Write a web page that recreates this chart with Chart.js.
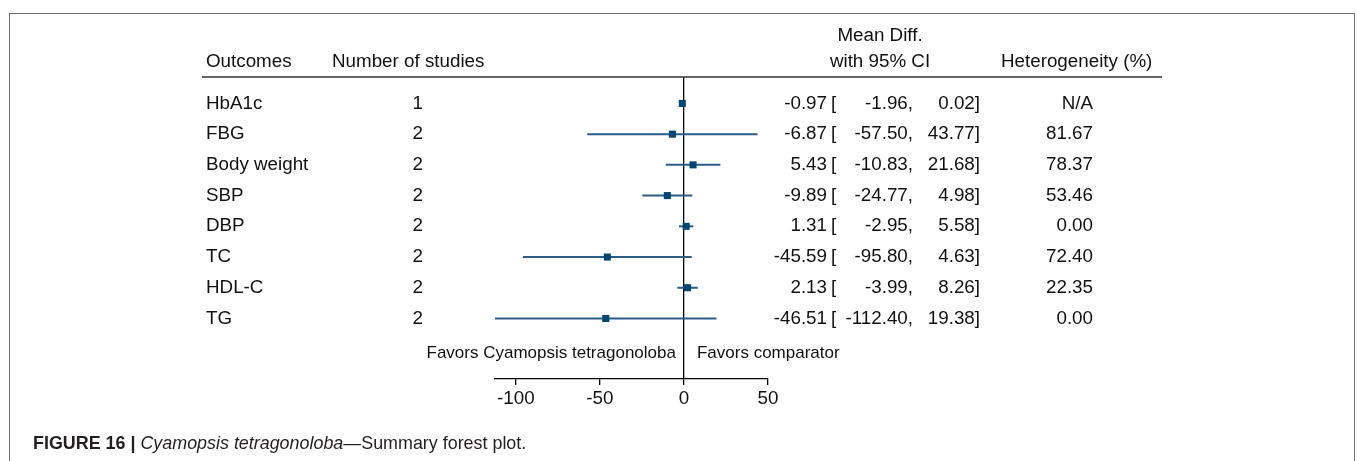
<!DOCTYPE html>
<html>
<head>
<meta charset="utf-8">
<script src="https://cdn.jsdelivr.net/npm/chart.js"></script>
<style>
  body { margin: 0; background: #fff; }
  #wrap { position: relative; width: 1357px; height: 461px; overflow: hidden; }
  #frame { position: absolute; left: 9px; top: 13px; width: 1344px; height: 460px;
           border: 1px solid #6d6d6d; border-bottom: none; }
  #forest { position: absolute; left: 0; top: 0; }
  #caption { position: absolute; left: 33px; top: 433px; font: 17.9px 'Liberation Sans', Arial, sans-serif;
             color: #231f20; white-space: nowrap; }
  #caption b { font-weight: bold; }
</style>
</head>
<body>
<div id="wrap">
  <div id="frame"></div>
  <canvas id="forest" width="1357" height="461"></canvas>
  <div id="caption"><b>FIGURE 16 |</b> <i>Cyamopsis tetragonoloba</i>—Summary forest plot.</div>
</div>
<script>
var outcomes = ['HbA1c', 'FBG', 'Body weight', 'SBP', 'DBP', 'TC', 'HDL-C', 'TG'];
var studies = [1, 2, 2, 2, 2, 2, 2, 2];
var meanDiff = [-0.97, -6.87, 5.43, -9.89, 1.31, -45.59, 2.13, -46.51];
var ciLow = [-1.96, -57.50, -10.83, -24.77, -2.95, -95.80, -3.99, -112.40];
var ciHigh = [0.02, 43.77, 21.68, 4.98, 5.58, 4.63, 8.26, 19.38];
var heterogeneity = ['N/A', '81.67', '78.37', '53.46', '0.00', '72.40', '22.35', '0.00'];
var xTicks = [-100, -50, 0, 50];

var FONT = "'Liberation Sans', Arial, sans-serif";
var TXT = '18.8px ' + FONT;

// forest plot table text + header rule
var tablePlugin = {
    id: 'forestTable',
    afterDraw: function (chart) {
        var ctx = chart.ctx;
        var y = chart.scales.y;
        var top = chart.chartArea.top;
        ctx.save();
        ctx.fillStyle = '#111';
        ctx.font = TXT;
        ctx.textBaseline = 'middle';

        // headers
        ctx.textAlign = 'left';
        ctx.fillText('Outcomes', 206, 62);
        ctx.fillText('Number of studies', 332, 62);
        ctx.fillText('Heterogeneity (%)', 1001, 62);
        ctx.textAlign = 'center';
        ctx.fillText('Mean Diff.', 880, 36);
        ctx.fillText('with 95% CI', 880, 62);

        ctx.strokeStyle = '#333';
        ctx.lineWidth = 1.3;
        ctx.beginPath();
        ctx.moveTo(202, top);
        ctx.lineTo(1162, top);
        ctx.stroke();

        // rows
        outcomes.forEach(function (name, i) {
            var py = y.getPixelForValue(i);
            ctx.textAlign = 'left';
            ctx.fillText(name, 206, py);
            ctx.textAlign = 'right';
            ctx.fillText(String(studies[i]), 423, py);
            ctx.fillText(meanDiff[i].toFixed(2), 827, py);
            ctx.textAlign = 'left';
            ctx.fillText('[', 831, py);
            ctx.textAlign = 'right';
            ctx.fillText(ciLow[i].toFixed(2) + ',', 913, py);
            ctx.fillText(ciHigh[i].toFixed(2) + ']', 980, py);
            ctx.fillText(heterogeneity[i], 1093, py);
        });

        // favors labels
        ctx.font = '17px ' + FONT;
        var fy = y.getPixelForValue(8.15);
        var x0 = chart.scales.x.getPixelForValue(0);
        ctx.textAlign = 'right';
        ctx.fillText('Favors Cyamopsis tetragonoloba', x0 - 8, fy);
        ctx.textAlign = 'left';
        ctx.fillText('Favors comparator', x0 + 13, fy);
        ctx.restore();
    }
};

var ciSets = outcomes.map(function (name, i) {
    return {
        label: name + ' CI',
        data: [{x: ciLow[i], y: i}, {x: ciHigh[i], y: i}],
        showLine: true,
        borderColor: '#2b5d87',
        borderWidth: 2,
        pointRadius: 0,
        clip: false,
        order: 1
    };
});

var estSet = {
    label: 'Mean Diff.',
    data: meanDiff.map(function (v, i) { return {x: v, y: i}; }),
    pointStyle: 'rect',
    pointRadius: 5,
    pointHoverRadius: 5,
    backgroundColor: '#004673',
    borderWidth: 0,
    clip: false,
    order: 0
};

new Chart(document.getElementById('forest'), {
    type: 'scatter',
    data: { datasets: ciSets.concat([estSet]) },
    options: {
        responsive: false,
        animation: false,
        layout: { padding: { left: 495, right: 589, top: 77, bottom: 0 } },
        plugins: { legend: { display: false }, tooltip: { enabled: false } },
        scales: {
            x: {
                type: 'linear',
                min: -112.4,
                max: 50,
                afterBuildTicks: function (scale) {
                    scale.ticks = xTicks.map(function (v) { return {value: v}; });
                },
                afterFit: function (scale) { scale.height = 82; },
                grid: {
                    drawOnChartArea: true,
                    color: function (c) { return c.tick && c.tick.value === 0 ? '#000' : 'rgba(0,0,0,0)'; },
                    lineWidth: 1.3,
                    tickLength: 6,
                    tickColor: '#000',
                    tickWidth: 1.3
                },
                border: { display: true, color: '#000', width: 1.3 },
                ticks: {
                    color: '#111',
                    font: { family: FONT, size: 18.8 },
                    padding: 3,
                    autoSkip: false,
                    maxRotation: 0
                }
            },
            y: {
                type: 'linear',
                reverse: true,
                min: -0.86,
                max: 8.97,
                display: false
            }
        }
    },
    plugins: [tablePlugin]
});
</script>
</body>
</html>
